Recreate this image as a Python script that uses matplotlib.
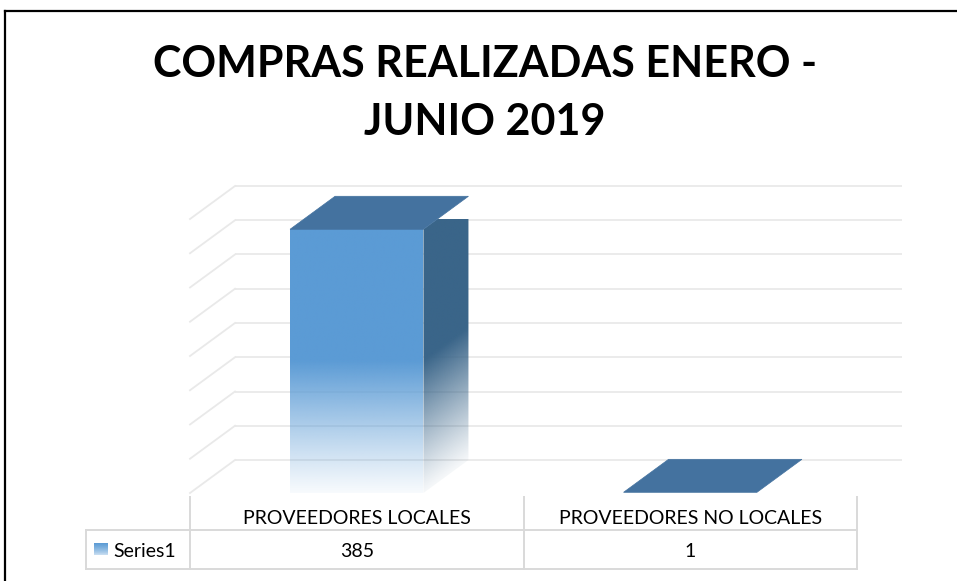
import numpy as np
import matplotlib.pyplot as plt
from matplotlib.patches import Polygon
from matplotlib.lines import Line2D
from matplotlib.colors import to_rgb
import matplotlib.transforms as mtransforms

# data
categories = ["PROVEEDORES LOCALES", "PROVEEDORES NO LOCALES"]
values = [385, 1]
series_name = "Series1"
title_lines = ["COMPRAS REALIZADAS ENERO -", "JUNIO 2019"]
y_max = 400
y_step = 50

# colours
front_col = "#5B9BD5"
top_col = "#44729F"
side_col = "#3A6589"
grid_col = "#E9E9E9"
table_col = "#D9D9D9"
font = "Lato"

W, H = 957, 581
fig = plt.figure(figsize=(W / 100, H / 100), dpi=100)
# front plane of the 3d box
ax = fig.add_axes([190 / W, 1 - 493 / H, 667 / W, 274 / H])
ax.axis("off")

# depth of the box, in data units
DX = 45 / 667 * 2
DY = 33 / 274 * y_max
bar_w = 0.40


def fade_alpha(frac):
    # solid in the upper half, fading towards the floor
    a = np.clip(frac / 0.5, 0, 1)
    return 0.05 + 0.95 * a ** 1.1


def gradient_face(poly, color, x0, x1, v_top, slant=False):
    patch = Polygon(poly, closed=True, facecolor="none", edgecolor="none")
    ax.add_patch(patch)
    ny, nx = 200, 40
    ys = np.linspace(0, v_top + (DY if slant else 0), ny)
    xs = np.linspace(x0, x1, nx)
    X, Y = np.meshgrid(xs, ys)
    if slant:
        Y = Y - DY * (X - x0) / (x1 - x0)
    frac = Y / v_top if v_top > 0 else np.ones_like(Y)
    img = np.zeros((ny, nx, 4))
    img[..., :3] = to_rgb(color)
    img[..., 3] = fade_alpha(frac)
    im = ax.imshow(img, extent=[x0, x1, 0, ys[-1]], origin="lower",
                   aspect="auto", interpolation="bilinear", zorder=3)
    im.set_clip_path(patch)


# back wall and side wall gridlines
for v in range(0, y_max + 1, y_step):
    ax.plot([-0.5 + DX, 1.5 + DX], [v + DY, v + DY], color=grid_col, lw=1.3,
            zorder=1, clip_on=False, solid_capstyle="butt")
    ax.plot([-0.5, -0.5 + DX], [v, v + DY], color=grid_col, lw=1.3,
            zorder=1, clip_on=False)

# 3d bars
for i, v in enumerate(values):
    x0, x1 = i - bar_w / 2, i + bar_w / 2
    if v > 5:
        gradient_face([(x0, 0), (x1, 0), (x1, v), (x0, v)], front_col, x0, x1, v)
        gradient_face([(x1, 0), (x1 + DX, DY), (x1 + DX, v + DY), (x1, v)],
                      side_col, x1, x1 + DX, v, slant=True)
    top = Polygon([(x0, v), (x1, v), (x1 + DX, v + DY), (x0 + DX, v + DY)],
                  closed=True, facecolor=top_col, edgecolor=top_col, lw=0.5,
                  zorder=4, clip_on=False)
    ax.add_patch(top)

ax.set_xlim(-0.5, 1.5)
ax.set_ylim(0, y_max)

# data table below the plot
tr = mtransforms.blended_transform_factory(ax.transData, ax.transAxes)
lbl_left = -0.5 - 104 / 333.5
y_top, y_mid, y_bot = -4 / 274, -37 / 274, -76 / 274
edges = [([-0.5, -0.5], [y_top, y_bot]),
         ([0.5, 0.5], [y_top, y_bot]),
         ([1.5, 1.5], [y_top, y_bot]),
         ([lbl_left, lbl_left], [y_mid, y_bot]),
         ([lbl_left, 1.5], [y_mid, y_mid]),
         ([lbl_left, 1.5], [y_bot, y_bot])]
for xs, ys in edges:
    ax.add_line(Line2D(xs, ys, transform=tr, color=table_col, lw=1.4,
                       clip_on=False))

head_base = -31 / 274
row_base = -64 / 274
for i, (c, v) in enumerate(zip(categories, values)):
    ax.text(i, head_base, c, transform=tr, ha="center", va="baseline",
            fontsize=14, family=font, color="#000000")
    ax.text(i, row_base, str(v), transform=tr, ha="center",
            va="baseline", fontsize=14, family=font, color="#000000")
ax.text(lbl_left + 27 / 333.5, row_base, series_name, transform=tr,
        ha="left", va="baseline", fontsize=14, family=font, color="#000000")

# legend key with the same fade
key = np.zeros((30, 1, 4))
key[..., :3] = to_rgb(front_col)
key[:, 0, 3] = np.linspace(0.15, 1, 30) ** 0.6
kax = fig.add_axes([94 / W, 1 - 555 / H, 14 / W, 12 / H])
kax.imshow(key, origin="lower", aspect="auto", interpolation="bilinear")
kax.axis("off")

# title, two lines
for line, base in zip(title_lines, [77, 135]):
    fig.text(485 / W, 1 - base / H, line, ha="center", va="baseline",
             fontsize=31, fontweight="bold", family=font)

# chart frame
fig.add_artist(Line2D([5 / W, 5 / W], [0, 1 - 11 / H], color="black", lw=1.6))
fig.add_artist(Line2D([5 / W, 1], [1 - 11 / H, 1 - 11 / H], color="black", lw=1.6))

fig.savefig("out.png", dpi=100)
